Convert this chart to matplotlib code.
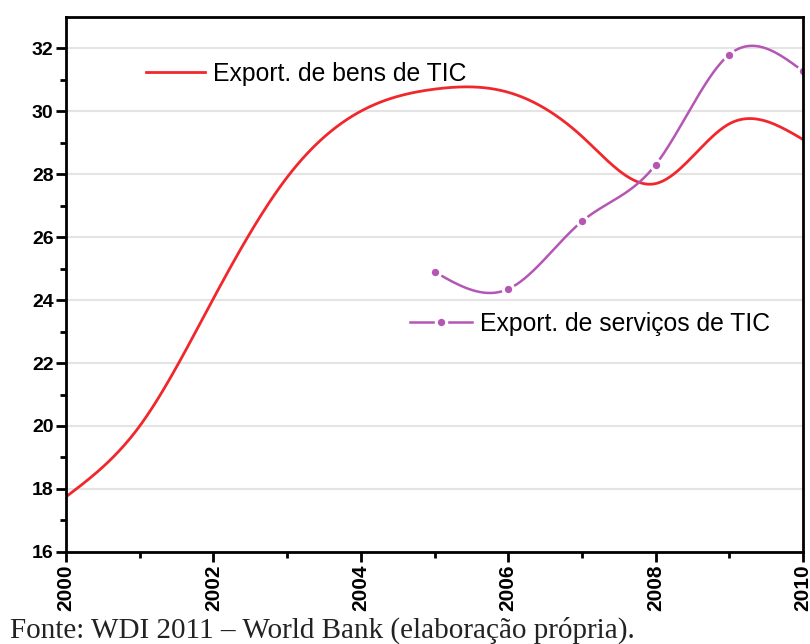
import numpy as np
import matplotlib.pyplot as plt

# Data
years_bens = [2000, 2001, 2002, 2003, 2004, 2005, 2006, 2007, 2008, 2009, 2010]
bens = [17.75, 20.0, 24.05, 27.9, 30.0, 30.7, 30.6, 29.2, 27.7, 29.6, 29.1]
years_serv = [2005, 2006, 2007, 2008, 2009, 2010]
servicos = [24.9, 24.35, 26.5, 28.3, 31.8, 31.27]

x_ticks = [2000, 2002, 2004, 2006, 2008, 2010]
y_ticks = [16, 18, 20, 22, 24, 26, 28, 30, 32]
caption = 'Fonte: WDI 2011 \u2013 World Bank (elaboração própria).'


def natural_spline(x, y, n=400):
    x = np.asarray(x, float)
    y = np.asarray(y, float)
    k = len(x)
    h = np.diff(x)
    A = np.zeros((k, k))
    b = np.zeros(k)
    A[0, 0] = A[-1, -1] = 1
    for i in range(1, k - 1):
        A[i, i - 1] = h[i - 1]
        A[i, i] = 2 * (h[i - 1] + h[i])
        A[i, i + 1] = h[i]
        b[i] = 6 * ((y[i + 1] - y[i]) / h[i] - (y[i] - y[i - 1]) / h[i - 1])
    M = np.linalg.solve(A, b)
    xs = np.linspace(x[0], x[-1], n)
    idx = np.clip(np.searchsorted(x, xs) - 1, 0, k - 2)
    x0, x1 = x[idx], x[idx + 1]
    hh = x1 - x0
    t0, t1 = x1 - xs, xs - x0
    ys = (M[idx] * t0**3 + M[idx + 1] * t1**3) / (6 * hh) \
        + (y[idx] / hh - M[idx] * hh / 6) * t0 \
        + (y[idx + 1] / hh - M[idx + 1] * hh / 6) * t1
    return xs, ys


plt.rcParams['font.family'] = ['Liberation Sans', 'DejaVu Sans']

fig = plt.figure(figsize=(8.1, 6.44), dpi=100)
ax = fig.add_axes([0.0815, 0.143, 0.9099, 0.831])

red = '#f0282d'
purple = '#b556b5'

xs, ys = natural_spline(years_bens, bens)
ax.plot(xs, ys, color=red, linewidth=2)

xs2, ys2 = natural_spline(years_serv, servicos)
ax.plot(xs2, ys2, color=purple, linewidth=1.8)
ax.plot(years_serv, servicos, linestyle='none', marker='o', markersize=7.5,
        markerfacecolor=purple, markeredgecolor='white', markeredgewidth=2.2)

ax.set_xlim(2000, 2010)
ax.set_ylim(16, 33)
ax.set_xticks(x_ticks)
ax.set_xticks(range(2001, 2010, 2), minor=True)
ax.set_yticks(y_ticks)
ax.set_yticks(range(17, 33, 2), minor=True)
ax.set_xticklabels([str(v) for v in x_ticks], rotation=90, fontweight='bold', fontsize=15)
ax.set_yticklabels([str(v) for v in y_ticks], fontweight='bold', fontsize=14)
ax.tick_params(which='major', length=7, width=2, pad=2)
ax.tick_params(which='minor', length=4, width=2)
ax.grid(axis='y', color='#e4e4e4', linewidth=1.5)
ax.set_axisbelow(True)
for sp in ax.spines.values():
    sp.set_linewidth(2)

# legend-like labels
l1, = ax.plot([], [], color=red, linewidth=2)
leg1 = ax.legend([l1], ['Export. de bens de TIC'], loc='upper left',
                 bbox_to_anchor=(0.078, 0.957), frameon=False, fontsize=17.8,
                 handlelength=2.4, handletextpad=0.3)
ax.add_artist(leg1)
l2, = ax.plot([], [], color=purple, linewidth=1.8, marker='o', markersize=7.5,
              markerfacecolor=purple, markeredgecolor='white', markeredgewidth=2.2)
ax.legend([l2], ['Export. de serviços de TIC'], loc='upper left',
          bbox_to_anchor=(0.437, 0.49), frameon=False, fontsize=17.8,
          handlelength=2.5, handletextpad=0.3)

fig.text(0.012, 0.01, caption, fontsize=21, family='Liberation Serif', color='#222222')

fig.savefig('out.png', dpi=100)
